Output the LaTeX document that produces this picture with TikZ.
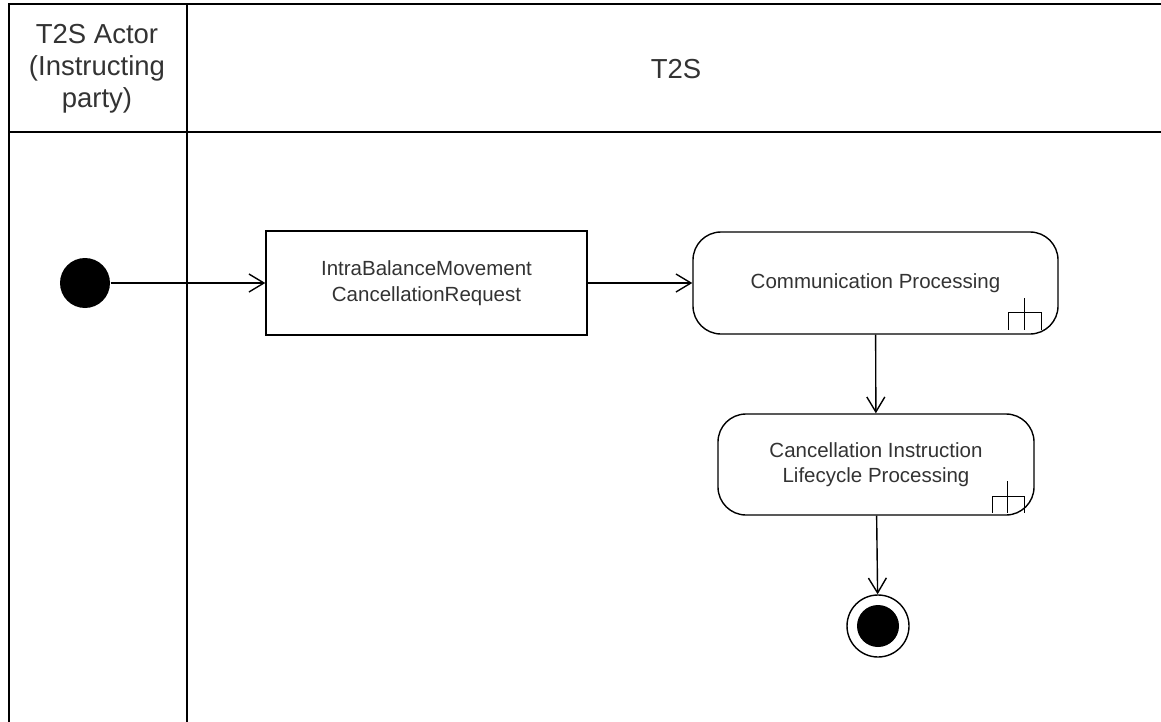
\documentclass[tikz,border=0pt]{standalone}
\usepackage{fontspec}
\setmainfont{Liberation Sans}
\usepackage{tikz}
\usetikzlibrary{arrows.meta,calc}

\begin{document}
\begin{tikzpicture}[x=1pt,y=-1pt,line width=1.4pt,
  seta/.style={-{Straight Barb[length=15pt,width=18pt,line width=1.4pt]}},
  titulo/.style={font=\fontsize{27.5}{32}\selectfont,align=center,text=black!80},
  acao/.style={draw,align=center,inner sep=0pt,font=\fontsize{20.5}{25.5}\selectfont,text=black!80},
  atividade/.style={acao,rounded corners=28pt}]
\useasboundingbox (0,0) rectangle (1161,722);
% Raias
\draw (1161,4) -- (9,4) -- (9,722);
\draw (9,132) -- (1161,132);
\draw (187,4) -- (187,722);
\node[titulo] (ator) at (97,69) {T2S Actor\\(Instructing\\party)};
\node[titulo] (t2s) at (676,69) {T2S};
% Nos
\node[circle,fill=black,minimum size=50pt,inner sep=0pt] (inicio) at (85,283) {};
\node[acao,minimum width=321pt,minimum height=104pt] (pedido) at (426.5,283) {IntraBalanceMovement\\CancellationRequest};
\node[atividade,minimum width=365pt,minimum height=102pt] (comun) at (875.5,283) {Communication Processing};
\node[atividade,minimum width=316pt,minimum height=101pt] (ciclo) at (876,464.5) {Cancellation Instruction\\Lifecycle Processing};
\node[circle,draw,minimum size=62pt,inner sep=0pt] (fim) at (878,626) {};
\node[circle,fill=black,minimum size=42pt,inner sep=0pt] at (fim) {};
% Garfos
\draw ([shift={(-50,-5)}]comun.south east) -- ++(0,-17) -- ++(33,0) -- ++(0,17);
\draw ([shift={(-34,-5)}]comun.south east) -- ++(0,-32);
\draw ([shift={(-42,-3)}]ciclo.south east) -- ++(0,-16) -- ++(32,0) -- ++(0,16);
\draw ([shift={(-27,-3)}]ciclo.south east) -- ++(0,-32);
% Fluxo
\draw[seta] (inicio) -- (pedido);
\draw[seta] (pedido) -- (comun);
\draw[seta] (comun) -- (ciclo);
\draw[seta] (ciclo) -- (fim);
\end{tikzpicture}
\end{document}
